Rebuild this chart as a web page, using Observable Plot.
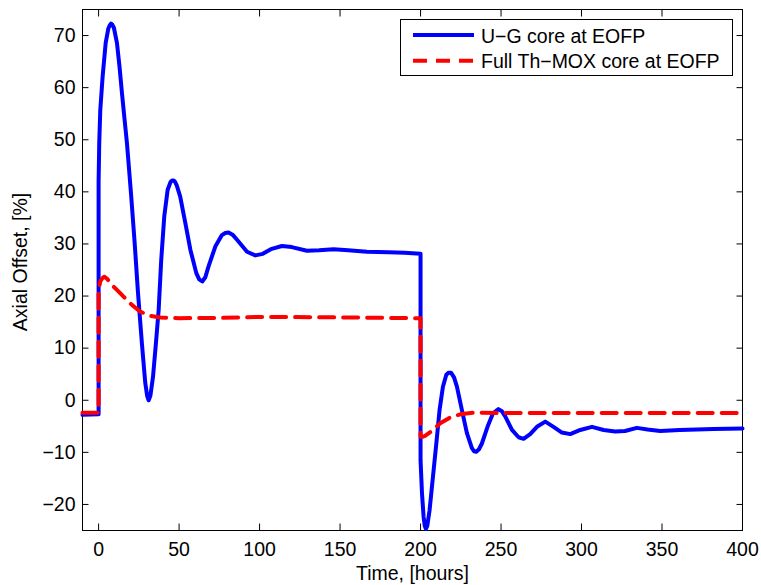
<!DOCTYPE html>
<html>
<head>
<meta charset="utf-8">
<script src="https://cdn.jsdelivr.net/npm/d3@7"></script>
<script src="https://cdn.jsdelivr.net/npm/@observablehq/plot@0.6"></script>
<style>
  html, body { margin: 0; padding: 0; background: #fff; }
  #wrap { position: relative; width: 761px; height: 585px; font-family: "Liberation Sans", Arial, Helvetica, sans-serif; }
  #legend { position: absolute; left: 400px; top: 19px; width: 331px; height: 55px; border: 1px solid #000; background: #fff; }
  #legend text { font-family: "Liberation Sans", Arial, Helvetica, sans-serif; font-size: 19.5px; fill: #000; }
</style>
</head>
<body>
<div id="wrap"></div>
<script>
// ---- data ----
const seriesNames = ["U\u2212G core at EOFP", "Full Th\u2212MOX core at EOFP"];
const xLabel = "Time, [hours]";
const yLabel = "Axial Offset, [%]";
const xTicks = [0, 50, 100, 150, 200, 250, 300, 350, 400];
const yTicks = [-20, -10, 0, 10, 20, 30, 40, 50, 60, 70];

const ugTime = [-10, -5, 0, 0, 0.4, 1.05, 2.5, 4.4, 6, 7, 7.7, 8.5, 9.5, 11.4, 13, 14.5, 16, 17.6, 20.1, 22.4, 24.5, 26.9, 29, 30.2, 31.1, 32.2,
  33.8, 35.6, 37.3, 38.9, 40.8, 42.9, 44.7, 45.7, 46.6, 47.5, 48.6, 50.7, 53.9, 57, 60.7, 62.5, 64.4, 66.3, 68.3, 72.5, 76.6, 78.7, 80.7,
  83.5, 86, 92.2, 97.4, 102, 107, 113.9, 120, 129.4, 137, 146, 155, 166.7, 180, 190, 200,
  200, 200.9, 201.9, 202.6, 203.3, 204.2, 205.6, 207.7, 209.8, 211.8, 213.9, 216, 217.5, 218.9, 220.8, 222.6, 225.7, 228.8, 231.9, 233.3, 234.6,
  236.3, 238.1, 241.6, 245, 248.4, 250.5, 252.6, 256.8, 260.9, 264, 268.1, 272.3, 277.5, 282.6, 287.8, 293, 299.2,
  306.5, 313.7, 320.9, 327, 334.4, 341, 348.9, 361, 382, 400];
const ugAxialOffset = [-2.8, -2.75, -2.7, 42, 49.4, 55.7, 62.1, 68.6, 71.3, 72.0, 72.3, 72.1, 71.5, 68.6, 64, 59, 54.3, 49.4, 39.8, 30.2, 20.5, 10.9, 3.3, 0.8, 0, 0.9,
  4.5, 10.9, 17.3, 26.9, 35.3, 40.4, 41.9, 42.2, 42.2, 41.9, 41.2, 39.1, 34, 28.9, 24.4, 23.2, 22.8, 23.6, 25.7, 29.5, 31.7, 32.1, 32.2,
  31.7, 30.8, 28.5, 27.8, 28.1, 29, 29.6, 29.4, 28.7, 28.8, 29.0, 28.8, 28.5, 28.4, 28.3, 28.1,
  -11.5, -17.9, -22.4, -24.1, -24.7, -24.1, -21.1, -14.7, -8.3, -1.9, 2.6, 4.9, 5.3, 5.3, 4.4, 2.6, -1.9, -6.3, -9.2, -9.8, -9.9,
  -9.4, -8.3, -5.1, -2.5, -1.7, -2.1, -3.1, -5.7, -7.1, -7.4, -6.5, -5.1, -4.1, -5.1, -6.2, -6.5, -5.7,
  -5.1, -5.7, -6.0, -5.9, -5.3, -5.6, -5.9, -5.7, -5.5, -5.4];

const moxTime = [-10, 0, 0, 1, 2.5, 3.5, 5, 7, 9.3, 12, 15.5, 20.7, 25.9, 32.1, 38.3, 50, 75, 100, 150, 200,
  200, 201.5, 203, 207, 212.2, 218.4, 224.7, 232.9, 250, 300, 400];
const moxAxialOffset = [-2.4, -2.4, 21, 22.8, 23.5, 23.7, 23.4, 22.7, 21.8, 21, 19.9, 18.3, 17.0, 16.2, 15.9, 15.75, 15.8, 16.0, 15.9, 15.75,
  -7.0, -7.0, -6.8, -5.9, -4.4, -3.3, -2.7, -2.4, -2.45, -2.45, -2.45];

// ---- build tables ----
const ug = ugTime.map((t, i) => ({t, v: ugAxialOffset[i]}));
const mox = moxTime.map((t, i) => ({t, v: moxAxialOffset[i]}));

const font = '"Liberation Sans", Arial, Helvetica, sans-serif';
const chart = Plot.plot({
  width: 761,
  height: 585,
  marginLeft: 82,
  marginRight: 19,
  marginTop: 9,
  marginBottom: 55,
  style: {fontFamily: font, fontSize: "19.5px", color: "#000", background: "#fff", overflow: "visible"},
  x: {domain: [-10, 400]},
  y: {domain: [-25, 75]},
  marks: [
    Plot.frame({stroke: "#000", strokeWidth: 1}),
    Plot.axisX(xTicks, {anchor: "bottom", tickSize: -6.5, tickPadding: 18, label: null}),
    Plot.axisX(xTicks, {anchor: "top", tickSize: -6.5, tickFormat: () => "", label: null}),
    Plot.axisY(yTicks, {anchor: "left", tickSize: -6.5, tickPadding: 13.5, label: null}),
    Plot.axisY(yTicks, {anchor: "right", tickSize: -6.5, tickFormat: () => "", label: null}),
    Plot.text([xLabel], {text: d => d, frameAnchor: "bottom", dy: 43, lineAnchor: "middle", fontSize: 19.5}),
    Plot.text([yLabel], {text: d => d, frameAnchor: "left", dx: -62, dy: -8, rotate: -90, textAnchor: "middle", lineAnchor: "middle", fontSize: 19.5}),
    Plot.line(ug, {x: "t", y: "v", stroke: "#0000ff", strokeWidth: 4, strokeLinejoin: "round"}),
    Plot.line(mox, {x: "t", y: "v", stroke: "#ff0000", strokeWidth: 4, strokeDasharray: "15,9", strokeLinejoin: "round"})
  ]
});

const wrap = document.getElementById("wrap");
wrap.appendChild(chart);

// ---- legend (HTML overlay) ----
const legend = document.createElement("div");
legend.id = "legend";
legend.innerHTML = `<svg width="331" height="55">
  <line x1="12" x2="73" y1="15" y2="15" stroke="#0000ff" stroke-width="4"/>
  <text x="80" y="23.3">${seriesNames[0]}</text>
  <line x1="12" x2="73" y1="40.7" y2="40.7" stroke="#ff0000" stroke-width="4" stroke-dasharray="14,9"/>
  <text x="80" y="48.3">${seriesNames[1]}</text>
</svg>`;
wrap.appendChild(legend);
</script>
</body>
</html>
